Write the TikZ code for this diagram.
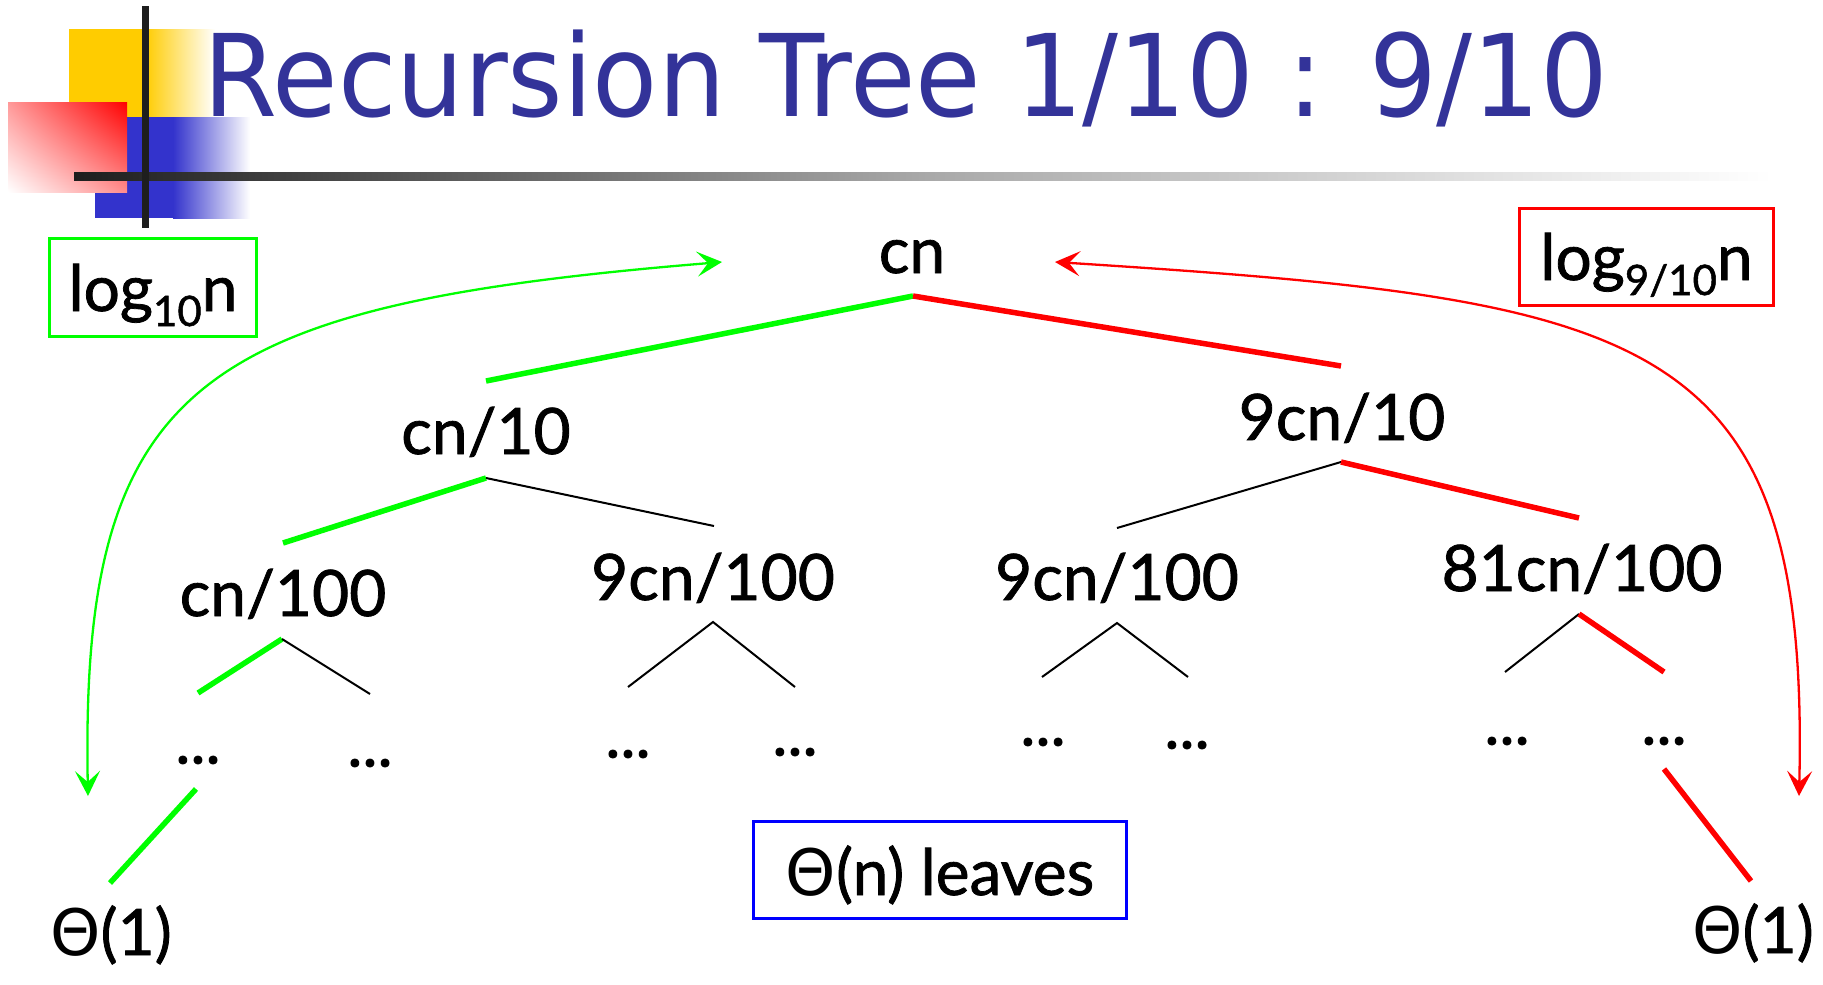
\documentclass[tikz,border=0pt]{standalone}
\usepackage{fontspec}
\usepackage{graphicx}
\setmainfont{Lato}[FakeBold=1.2]
\newfontfamily\grk{DejaVu Sans}
\newfontfamily\titlefont{DejaVu Sans}
\usetikzlibrary{arrows.meta,shadings}
\definecolor{titleblue}{HTML}{333399}
\definecolor{logoyellow}{HTML}{FFCC00}
\definecolor{logoblue}{HTML}{3333CC}
\definecolor{rulegray}{HTML}{1E1E1E}
\newcommand{\lblsize}{\fontsize{64}{72}\selectfont}
\newcommand{\subsz}{\fontsize{42}{42}\selectfont}
\tikzset{
  lbl/.style={inner sep=0pt, anchor=base, font=\lblsize},
  dotsnode/.style={inner sep=0pt, anchor=center, font=\lblsize},
  gpath/.style={draw=green, line width=5.5pt},
  rpath/.style={draw=red, line width=5.5pt},
  kpath/.style={draw=black, line width=2pt},
  sidebox/.style={draw, line width=3.5pt, inner sep=0pt, text depth=0pt, font=\lblsize},
  curvearrow/.style={line width=2.3pt, {Stealth[length=25pt,width=25pt,inset=11pt]}-{Stealth[length=25pt,width=25pt,inset=11pt]}},
}
\begin{document}
\begin{tikzpicture}[x=1pt,y=-1pt]
\useasboundingbox (0,0) rectangle (1823,985);
% ---- logo ----
\fill[logoyellow] (69,29) rectangle (146,118);
\shade[left color=logoyellow, right color=white] (145,29) rectangle (215,118);
\fill[logoblue] (95,117) rectangle (174,218);
\shade[left color=logoblue, right color=white] (173,117) rectangle (250,218);
\shade[upper right=red, lower left=white, upper left=red!40, lower right=red!45] (8,102) rectangle (127,192);
\shade[left color=rulegray, right color=white, middle color=black!34] (74,172) rectangle (1772,180);
\fill[rulegray] (142,6) rectangle (149,228);
% ---- title ----
\node[anchor=base west, inner sep=0pt, text=titleblue] (title) at (203,116)
  {\resizebox{1405pt}{\height}{\titlefont\fontsize{114}{130}\selectfont Recursion Tree 1/10 : 9/10}};
% ---- side boxes ----
\node[sidebox, draw=green, text height=47pt, minimum width=207pt, minimum height=98pt] (boxL) at (153,287.5)
  {log\raisebox{-15pt}{\subsz 10}n};
\node[sidebox, draw=red, text height=46pt, minimum width=254pt, minimum height=97pt] (boxR) at (1646.5,257)
  {log\raisebox{-15pt}{\subsz 9/10}n};
\node[sidebox, draw=blue, text height=50pt, minimum width=373pt, minimum height=97pt] (boxB) at (940,870)
  {{\grk Θ}(n) leaves};
% ---- tree labels ----
\node[lbl] (n0) at (912,273) {cn};
\node[lbl] (n1) at (486,454) {cn/10};
\node[lbl] (n2) at (1342,440) {9cn/10};
\node[lbl] (n3) at (283,616) {cn/100};
\node[lbl] (n4) at (713,600) {9cn/100};
\node[lbl] (n5) at (1117,600) {9cn/100};
\node[lbl] (n6) at (1582,591) {81cn/100};
\node[dotsnode] (d1) at (198,760) {...};
\node[dotsnode] (d2) at (370,763) {...};
\node[dotsnode] (d3) at (628,754) {...};
\node[dotsnode] (d4) at (795,752) {...};
\node[dotsnode] (d5) at (1043,742) {...};
\node[dotsnode] (d6) at (1187,745) {...};
\node[dotsnode] (d7) at (1507,741) {...};
\node[dotsnode] (d8) at (1664,741) {...};
\node[lbl] (t1) at (111,955) {{\grk Θ}(1)};
\node[lbl] (t2) at (1753,953) {{\grk Θ}(1)};
% ---- edge end points ----
\coordinate (a0) at (913,296);
\coordinate (a1top) at (486,381);
\coordinate (a2top) at (1341,366);
\coordinate (a1) at (486,478);
\coordinate (a3top) at (283,543);
\coordinate (a4top) at (714,526);
\coordinate (a2) at (1341,462);
\coordinate (a5top) at (1117,528);
\coordinate (a6top) at (1579,518);
\coordinate (a3) at (282,639);
\coordinate (e31) at (198,693);
\coordinate (e32) at (370,694);
\coordinate (a4) at (713,622);
\coordinate (e41) at (628,687);
\coordinate (e42) at (795,687);
\coordinate (a5) at (1117,623);
\coordinate (e51) at (1042,677);
\coordinate (e52) at (1188,677);
\coordinate (a6) at (1579,614);
\coordinate (e61) at (1505,672);
\coordinate (e62) at (1664,672);
\coordinate (lg1) at (196,789);
\coordinate (lg2) at (110,883);
\coordinate (lr1) at (1664,769);
\coordinate (lr2) at (1751,881);
% ---- edges ----
\draw[gpath] (a0) -- (a1top);
\draw[rpath] (a0) -- (a2top);
\draw[gpath] (a1) -- (a3top);
\draw[kpath] (a1) -- (a4top);
\draw[kpath] (a2) -- (a5top);
\draw[rpath] (a2) -- (a6top);
\draw[gpath] (a3) -- (e31);
\draw[kpath] (a3) -- (e32);
\draw[kpath] (e41) -- (a4) -- (e42);
\draw[kpath] (e51) -- (a5) -- (e52);
\draw[kpath] (a6) -- (e61);
\draw[rpath] (a6) -- (e62);
\draw[gpath] (lg1) -- (lg2);
\draw[rpath] (lr1) -- (lr2);
% ---- curved arrows ----
\coordinate (gS) at (722,262);
\coordinate (gE) at (88,796);
\coordinate (rS) at (1055,262);
\coordinate (rE) at (1799,796);
\draw[curvearrow, green] (gE) .. controls (80,380) and (200,305) .. (gS);
\draw[curvearrow, red] (rS) .. controls (1650,300) and (1810,330) .. (rE);
\end{tikzpicture}
\end{document}
